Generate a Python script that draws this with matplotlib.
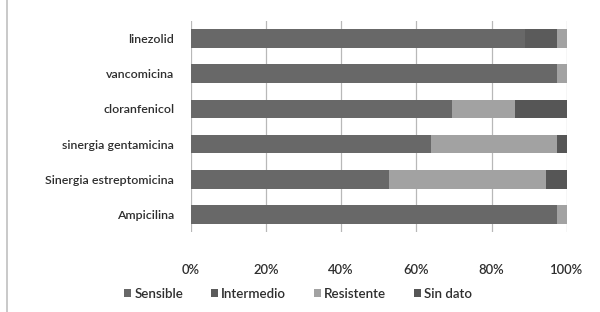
import matplotlib.pyplot as plt
import numpy as np
from matplotlib.lines import Line2D
from matplotlib.patches import Patch

# categories listed top to bottom as in the chart
antibiotics = [
    "linezolid",
    "vancomicina",
    "cloranfenicol",
    "sinergia gentamicina",
    "Sinergia estreptomicina",
    "Ampicilina",
]
sensible = [88.9, 97.5, 69.5, 64.0, 52.8, 97.5]
intermedio = [8.6, 0.0, 0.0, 0.0, 0.0, 0.0]
resistente = [2.5, 2.5, 16.8, 33.4, 41.7, 2.5]
sin_dato = [0.0, 0.0, 13.7, 2.6, 5.5, 0.0]

series = ["Sensible", "Intermedio", "Resistente", "Sin dato"]
colors = ["#686868", "#5b5b5b", "#a2a2a2", "#565656"]
tick_labels = ["0%", "20%", "40%", "60%", "80%", "100%"]

plt.rcParams["font.family"] = ["Lato", "DejaVu Sans"]
plt.rcParams["font.weight"] = "semibold"
text_color = "#2e2e2e"

fig = plt.figure(figsize=(6, 3.12), dpi=100)
ax = fig.add_axes([0.318, 0.256, 0.6265, 0.677])

y = np.arange(len(antibiotics))
left = np.zeros(len(antibiotics))
for name, vals, col in zip(series, [sensible, intermedio, resistente, sin_dato], colors):
    vals = np.array(vals)
    ax.barh(y, vals, left=left, height=0.53, color=col, label=name, zorder=3)
    left += vals

ax.set_xlim(0, 100)
ax.set_ylim(len(antibiotics) - 0.5, -0.5)
ax.set_yticks(y)
ax.set_yticklabels(antibiotics, fontsize=8.9, color=text_color)
ax.set_xticks(np.linspace(0, 100, 6))
ax.set_xticklabels(tick_labels, fontsize=9.4, color=text_color)
ax.tick_params(axis="y", length=0, pad=12)
ax.tick_params(axis="x", length=0, pad=23)
ax.grid(axis="x", color="#b8b8b8", linewidth=0.9, zorder=0)
for s in ax.spines.values():
    s.set_visible(False)

handles = [Patch(facecolor=c, edgecolor="none") for c in colors]
fig.legend(
    handles,
    series,
    loc="center",
    bbox_to_anchor=(0.497, 0.058),
    ncol=4,
    frameon=False,
    fontsize=9.6,
    handlelength=0.5,
    handleheight=0.5,
    handletextpad=0.25,
    columnspacing=2.1,
    labelcolor=text_color,
)

# frame line on the left edge of the picture
fig.add_artist(Line2D([0.012, 0.012], [0, 1], transform=fig.transFigure, color="#c0c0c0", linewidth=1.2))

fig.savefig("out.png", dpi=100)
